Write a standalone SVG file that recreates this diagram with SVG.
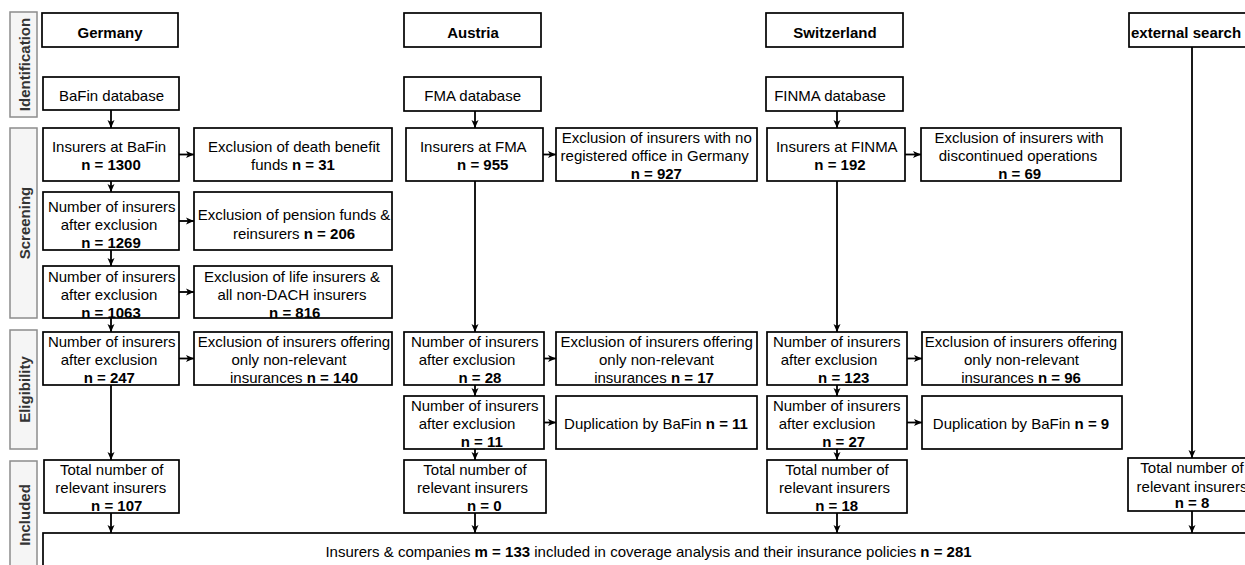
<svg xmlns="http://www.w3.org/2000/svg" width="1245" height="565" viewBox="0 0 1245 565">
<defs>
<style>
.box{fill:#fff;stroke:#000;stroke-width:1.7}
.phase{fill:#f5f5f5;stroke:#8c8c8c;stroke-width:1.5}
.pt{font-family:"Liberation Sans",Arial,sans-serif;font-size:15px;font-weight:bold;fill:#333;text-anchor:middle}
text{font-family:"Liberation Sans",Arial,sans-serif;font-size:15px;fill:#000}
.c{text-anchor:middle}
.b{font-weight:bold}
.ln{fill:none;stroke:#000;stroke-width:1.8;marker-end:url(#ah)}
</style>
<marker id="ah" viewBox="0 0 8 8" refX="8" refY="4" markerWidth="8" markerHeight="8" markerUnits="userSpaceOnUse" orient="auto">
<path d="M0,0.5 L8,4 L0,7.5 L2,4 z" fill="#000"/>
</marker>
</defs>
<rect width="1245" height="565" fill="#fff"/>

<g id="phases">
<rect class="phase" x="10" y="12" width="27" height="105"/>
<text class="pt" transform="translate(30,64.5) rotate(-90)">Identification</text>
<rect class="phase" x="10" y="128" width="27" height="190"/>
<text class="pt" transform="translate(30,223) rotate(-90)">Screening</text>
<rect class="phase" x="10" y="330" width="27" height="119"/>
<text class="pt" transform="translate(30,389.5) rotate(-90)">Eligibility</text>
<rect class="phase" x="10" y="461" width="27" height="108"/>
<text class="pt" transform="translate(30,515) rotate(-90)">Included</text>
</g>

<g id="connectors">
<line class="ln" x1="111" y1="110" x2="111" y2="128"/>
<line class="ln" x1="111" y1="181" x2="111" y2="192"/>
<line class="ln" x1="111" y1="250" x2="111" y2="266"/>
<line class="ln" x1="111" y1="318" x2="111" y2="332"/>
<line class="ln" x1="111" y1="385" x2="111" y2="460"/>
<line class="ln" x1="111" y1="513" x2="111" y2="533"/>
<line class="ln" x1="179" y1="154.5" x2="194" y2="154.5"/>
<line class="ln" x1="179" y1="221" x2="194" y2="221"/>
<line class="ln" x1="179" y1="292" x2="194" y2="292"/>
<line class="ln" x1="179" y1="358.5" x2="194" y2="358.5"/>
<line class="ln" x1="475" y1="111" x2="475" y2="128"/>
<line class="ln" x1="475" y1="181" x2="475" y2="332"/>
<line class="ln" x1="475" y1="385" x2="475" y2="396"/>
<line class="ln" x1="475" y1="449" x2="475" y2="460"/>
<line class="ln" x1="475" y1="513" x2="475" y2="533"/>
<line class="ln" x1="543" y1="154.5" x2="556" y2="154.5"/>
<line class="ln" x1="544" y1="358.5" x2="556" y2="358.5"/>
<line class="ln" x1="544" y1="422.5" x2="556" y2="422.5"/>
<line class="ln" x1="837" y1="111" x2="837" y2="128"/>
<line class="ln" x1="837" y1="181" x2="837" y2="332"/>
<line class="ln" x1="837" y1="385" x2="837" y2="396"/>
<line class="ln" x1="837" y1="449" x2="837" y2="460"/>
<line class="ln" x1="837" y1="513" x2="837" y2="533"/>
<line class="ln" x1="905" y1="154.5" x2="921" y2="154.5"/>
<line class="ln" x1="907" y1="358.5" x2="922" y2="358.5"/>
<line class="ln" x1="907" y1="422.5" x2="922" y2="422.5"/>
<line class="ln" x1="1192" y1="47" x2="1192" y2="458"/>
<line class="ln" x1="1192" y1="511" x2="1192" y2="533"/>
</g>

<g id="de-header"><rect class="box" x="42" y="13" width="136" height="34"/><text class="c b" x="110" y="37.5">Germany</text></g>
<g id="de-db"><rect class="box" x="43" y="77" width="136" height="33"/><text class="c" x="111.5" y="101">BaFin database</text></g>
<g id="de-n1300"><rect class="box" x="43" y="128" width="136" height="53"/><text class="c" x="109" y="152">Insurers at BaFin</text><text class="c b" x="111" y="170">n = 1300</text></g>
<g id="de-ex31"><rect class="box" x="194" y="128" width="198" height="53"/><text class="c" x="294" y="152">Exclusion of death benefit</text><text class="c" x="293" y="170">funds <tspan class="b">n = 31</tspan></text></g>
<g id="de-n1269"><rect class="box" x="43" y="192" width="136" height="58"/><text class="c" x="111.7" y="211.7">Number of insurers</text><text class="c" x="109" y="230">after exclusion</text><text class="c b" x="111" y="248.3">n = 1269</text></g>
<g id="de-ex206"><rect class="box" x="194" y="192" width="198" height="58"/><text class="c" x="294" y="220">Exclusion of pension funds &amp;</text><text class="c" x="294" y="239.3">reinsurers <tspan class="b">n = 206</tspan></text></g>
<g id="de-n1063"><rect class="box" x="43" y="266" width="136" height="52"/><text class="c" x="111.7" y="282.3">Number of insurers</text><text class="c" x="109" y="300">after exclusion</text><text class="c b" x="111" y="317.7">n = 1063</text></g>
<g id="de-ex816"><rect class="box" x="194" y="266" width="198" height="52"/><text class="c" x="292" y="282.3">Exclusion of life insurers &amp;</text><text class="c" x="292" y="300">all non-DACH insurers</text><text class="c b" x="294.7" y="317.7">n = 816</text></g>
<g id="de-n247"><rect class="box" x="43" y="332" width="136" height="53"/><text class="c" x="111.7" y="346.7">Number of insurers</text><text class="c" x="109" y="365">after exclusion</text><text class="c b" x="109.3" y="383.3">n = 247</text></g>
<g id="de-ex140"><rect class="box" x="194" y="332" width="198" height="53"/><text class="c" x="294" y="346.7">Exclusion of insurers offering</text><text class="c" x="289" y="365">only non-relevant</text><text class="c" x="294" y="383.3">insurances <tspan class="b">n = 140</tspan></text></g>
<g id="de-total"><rect class="box" x="44" y="460" width="135" height="53"/><text class="c" x="111.7" y="475">Total number of</text><text class="c" x="110.8" y="493.3">relevant insurers</text><text class="c b" x="116.7" y="511">n = 107</text></g>

<g id="at-header"><rect class="box" x="404" y="13" width="137" height="34"/><text class="c b" x="473" y="37.5">Austria</text></g>
<g id="at-db"><rect class="box" x="404" y="77" width="137" height="34"/><text class="c" x="472.7" y="101">FMA database</text></g>
<g id="at-n955"><rect class="box" x="406" y="128" width="137" height="53"/><text class="c" x="473.3" y="151.7">Insurers at FMA</text><text class="c b" x="482.7" y="170">n = 955</text></g>
<g id="at-ex927"><rect class="box" x="556" y="128" width="201" height="53"/><text class="c" x="656.7" y="142.7">Exclusion of insurers with no</text><text class="c" x="654.7" y="161">registered office in Germany</text><text class="c b" x="656.3" y="179">n = 927</text></g>
<g id="at-n28"><rect class="box" x="404" y="332" width="140" height="53"/><text class="c" x="474.7" y="346.7">Number of insurers</text><text class="c" x="467" y="365">after exclusion</text><text class="c b" x="480" y="382.7">n = 28</text></g>
<g id="at-ex17"><rect class="box" x="556" y="332" width="201" height="53"/><text class="c" x="656.7" y="346.7">Exclusion of insurers offering</text><text class="c" x="656.5" y="365">only non-relevant</text><text class="c" x="654" y="382.7">insurances <tspan class="b">n = 17</tspan></text></g>
<g id="at-n11"><rect class="box" x="404" y="396" width="140" height="53"/><text class="c" x="474.7" y="410.7">Number of insurers</text><text class="c" x="467" y="429">after exclusion</text><text class="c b" x="481.7" y="446.7">n = 11</text></g>
<g id="at-dup11"><rect class="box" x="556" y="396" width="201" height="53"/><text class="c" x="656" y="429">Duplication by BaFin <tspan class="b">n = 11</tspan></text></g>
<g id="at-total"><rect class="box" x="404" y="460" width="142" height="53"/><text class="c" x="475" y="475">Total number of</text><text class="c" x="472.5" y="493.3">relevant insurers</text><text class="c b" x="484.3" y="511">n = 0</text></g>

<g id="ch-header"><rect class="box" x="766" y="13" width="137" height="34"/><text class="c b" x="835" y="37.5">Switzerland</text></g>
<g id="ch-db"><rect class="box" x="766" y="77" width="137" height="34"/><text class="c" x="830" y="101">FINMA database</text></g>
<g id="ch-n192"><rect class="box" x="767" y="128" width="138" height="53"/><text class="c" x="836.8" y="152">Insurers at FINMA</text><text class="c b" x="840" y="170">n = 192</text></g>
<g id="ch-ex69"><rect class="box" x="921" y="128" width="200" height="53"/><text class="c" x="1019" y="143">Exclusion of insurers with</text><text class="c" x="1018" y="161">discontinued operations</text><text class="c b" x="1019.7" y="179">n = 69</text></g>
<g id="ch-n123"><rect class="box" x="767" y="332" width="140" height="53"/><text class="c" x="836.7" y="346.7">Number of insurers</text><text class="c" x="829" y="365">after exclusion</text><text class="c b" x="843.7" y="382.7">n = 123</text></g>
<g id="ch-ex96"><rect class="box" x="922" y="332" width="200" height="53"/><text class="c" x="1021" y="346.7">Exclusion of insurers offering</text><text class="c" x="1021.5" y="365">only non-relevant</text><text class="c" x="1021" y="382.7">insurances <tspan class="b">n = 96</tspan></text></g>
<g id="ch-n27"><rect class="box" x="767" y="396" width="140" height="53"/><text class="c" x="836.7" y="410.7">Number of insurers</text><text class="c" x="827" y="429">after exclusion</text><text class="c b" x="843.7" y="446.7">n = 27</text></g>
<g id="ch-dup9"><rect class="box" x="922" y="396" width="200" height="53"/><text class="c" x="1021" y="429">Duplication by BaFin <tspan class="b">n = 9</tspan></text></g>
<g id="ch-total"><rect class="box" x="767" y="460" width="140" height="53"/><text class="c" x="837" y="475">Total number of</text><text class="c" x="834.5" y="493.3">relevant insurers</text><text class="c b" x="836.7" y="511">n = 18</text></g>

<g id="ext-header"><rect class="box" x="1129" y="13" width="128" height="34"/><text class="b" x="1131" y="37.5">external search</text></g>
<g id="ext-total"><rect class="box" x="1128" y="458" width="130" height="53"/><text class="c" x="1192" y="473.3">Total number of</text><text class="c" x="1192" y="491.7">relevant insurers</text><text class="c b" x="1192" y="508.3">n = 8</text></g>

<g id="final"><rect class="box" x="43" y="533" width="1212" height="40"/><text class="c" x="648.5" y="556.5">Insurers &amp; companies <tspan class="b">m = 133</tspan> included in coverage analysis and their insurance policies <tspan class="b">n = 281</tspan></text></g>
</svg>
